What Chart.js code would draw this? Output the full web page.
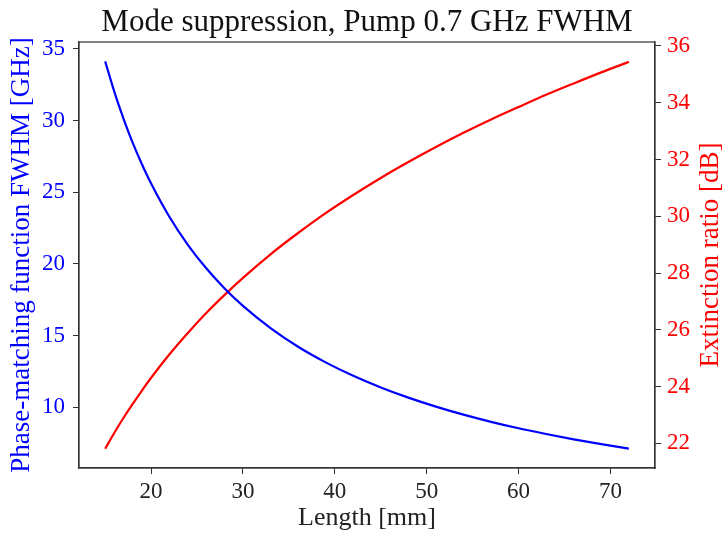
<!DOCTYPE html>
<html lang="en">
<head>
<meta charset="utf-8">
<title>Mode suppression</title>
<script src="https://cdn.jsdelivr.net/npm/chart.js@4.4.1/dist/chart.umd.min.js"></script>
<style>
  body { margin: 0; background: #fff; }
  .wrap { width: 724px; height: 534px; position: relative; }
</style>
</head>
<body>
<div class="wrap"><canvas id="chart"></canvas></div>
<script>
// crystal length [mm]
const lengthMm = [15, 16, 17, 18, 19, 20, 22, 24, 26, 28, 30, 33, 36, 39, 42, 45, 48, 51, 54, 57, 60, 63, 66, 69, 72];
// phase-matching function FWHM [GHz]
const fwhmGHz = [34.13, 32.00, 30.12, 28.44, 26.95, 25.60, 23.27, 21.33, 19.69, 18.29, 17.07, 15.52, 14.22,
                 13.13, 12.19, 11.38, 10.67, 10.04, 9.48, 8.98, 8.53, 8.13, 7.76, 7.42, 7.11];
// extinction ratio [dB]
const extinctionDb = [21.81, 22.37, 22.90, 23.39, 23.86, 24.31, 25.14, 25.89, 26.59, 27.23, 27.83, 28.66, 29.41,
                      30.11, 30.75, 31.35, 31.91, 32.44, 32.94, 33.41, 33.85, 34.28, 34.68, 35.07, 35.44];

const xTicks = [20, 30, 40, 50, 60, 70];
const leftTicks = [10, 15, 20, 25, 30, 35];
const rightTicks = [22, 24, 26, 28, 30, 32, 34, 36];

const titleText = 'Mode suppression, Pump 0.7 GHz FWHM';
const xLabel = 'Length [mm]';
const leftLabel = 'Phase-matching function FWHM [GHz]';
const rightLabel = 'Extinction ratio [dB]';

const BLUE = '#0000ff';
const RED = '#ff0000';
const SPINE = '#333333';
const FONT = '"Liberation Serif", "Times New Roman", serif';

// title, full box and the right label (matplotlib reads it bottom to top)
const frame = {
  id: 'frame',
  afterDraw(chart) {
    const { ctx, chartArea: a } = chart;
    ctx.save();
    ctx.strokeStyle = SPINE;
    ctx.lineWidth = 1.2;
    ctx.strokeRect(a.left, a.top, a.right - a.left, a.bottom - a.top);

    ctx.fillStyle = '#111';
    ctx.font = '31px ' + FONT;
    ctx.textAlign = 'center';
    ctx.textBaseline = 'middle';
    ctx.fillText(titleText, (a.left + a.right) / 2, 23);

    ctx.translate(711, (a.top + a.bottom) / 2);
    ctx.rotate(-Math.PI / 2);
    ctx.fillStyle = RED;
    ctx.font = '27px ' + FONT;
    ctx.fillText(rightLabel, 0, 0);
    ctx.restore();
  }
};

function fixTicks(list) {
  return scale => { scale.ticks = list.map(v => ({ value: v })); };
}

const ctx = document.getElementById('chart').getContext('2d');
new Chart(ctx, {
  type: 'line',
  data: {
    datasets: [{
      label: 'FWHM',
      data: lengthMm.map((l, i) => ({ x: l, y: fwhmGHz[i] })),
      borderColor: BLUE,
      borderWidth: 2.2,
      pointRadius: 0,
      cubicInterpolationMode: 'monotone',
      yAxisID: 'y'
    }, {
      label: 'Extinction ratio',
      data: lengthMm.map((l, i) => ({ x: l, y: extinctionDb[i] })),
      borderColor: RED,
      borderWidth: 2.2,
      pointRadius: 0,
      cubicInterpolationMode: 'monotone',
      yAxisID: 'y2'
    }]
  },
  options: {
    responsive: true,
    maintainAspectRatio: false,
    animation: false,
    layout: { padding: { top: 42, left: 0, right: 0, bottom: 0 } },
    plugins: {
      legend: { display: false },
      title: { display: false },
      tooltip: { enabled: false }
    },
    scales: {
      x: {
        type: 'linear',
        min: 12.15,
        max: 74.85,
        afterBuildTicks: fixTicks(xTicks),
        afterFit: s => { s.height = 66; },
        grid: { drawOnChartArea: false, tickLength: 6, color: SPINE },
        border: { color: SPINE, width: 1.2 },
        ticks: { color: '#222', font: { family: FONT, size: 23 }, padding: 4, maxRotation: 0 },
        title: { display: true, text: xLabel, color: '#222', font: { family: FONT, size: 26 }, padding: { top: 0, bottom: 0 } }
      },
      y: {
        position: 'left',
        min: 5.76,
        max: 35.48,
        afterBuildTicks: fixTicks(leftTicks),
        afterFit: s => { s.width = 79; },
        grid: { drawOnChartArea: false, tickLength: 6, color: SPINE },
        border: { color: SPINE, width: 1.2 },
        ticks: { color: BLUE, font: { family: FONT, size: 23 }, padding: 8 },
        title: { display: true, text: leftLabel, color: BLUE, font: { family: FONT, size: 27 }, padding: { top: 6, bottom: 0 } }
      },
      y2: {
        position: 'right',
        min: 21.13,
        max: 36.14,
        afterBuildTicks: fixTicks(rightTicks),
        afterFit: s => { s.width = 69; },
        grid: { drawOnChartArea: false, tickLength: 6, color: SPINE },
        border: { color: SPINE, width: 1.2 },
        ticks: { color: RED, font: { family: FONT, size: 23 }, padding: 6 }
      }
    }
  },
  plugins: [frame]
});
</script>
</body>
</html>
